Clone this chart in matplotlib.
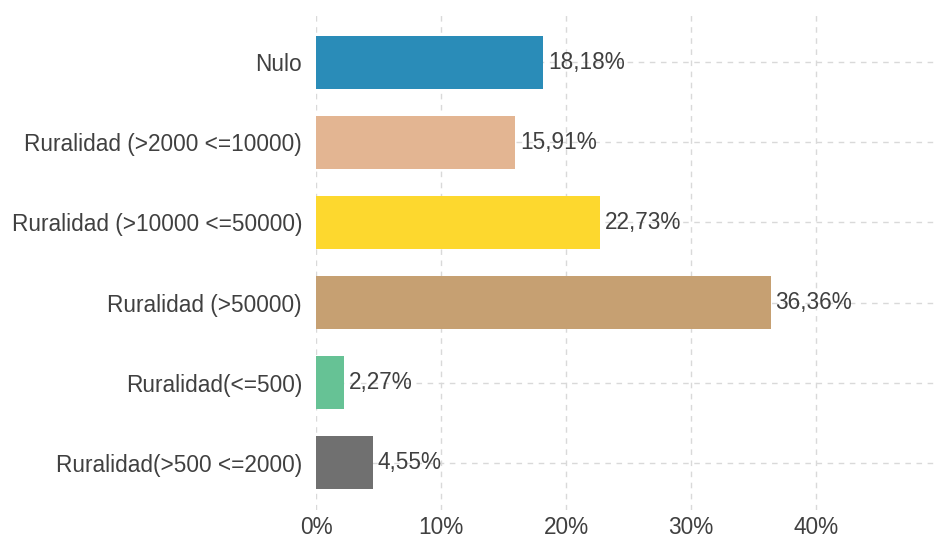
import matplotlib
matplotlib.use("Agg")
import matplotlib.pyplot as plt
from matplotlib.ticker import FuncFormatter

plt.rcParams['font.family'] = ['Liberation Sans', 'DejaVu Sans']

categories = ["Nulo", "Ruralidad (>2000 <=10000)", "Ruralidad (>10000 <=50000)",
              "Ruralidad (>50000)", "Ruralidad(<=500)", "Ruralidad(>500 <=2000)"]
values = [18.18, 15.91, 22.73, 36.36, 2.27, 4.55]
colors = ["#2a8cb8", "#e3b592", "#fdd82e", "#c6a072", "#66c295", "#707070"]
xticks = [0, 10, 20, 30, 40]

FS = 16.3

fig = plt.figure(figsize=(9.36, 5.43), dpi=100)
ax = fig.add_axes([316/936, 33/543, 620/936, 495/543])

y = list(range(len(categories)))
ax.set_axisbelow(True)
for yi in y:
    ax.axhline(yi, color="#d9d9d9", lw=1, ls=(0, (4, 4)), zorder=0)
for xv in xticks:
    ax.axvline(xv, color="#d9d9d9", lw=1, ls=(0, (4, 4)), zorder=0)

ax.barh(y, values, height=0.66, color=colors, zorder=2)
for yi, v in zip(y, values):
    ax.text(v + 0.4, yi, f"{v:.2f}%".replace(".", ","), va="center", ha="left",
            fontsize=FS, color="#404040", zorder=3)

ax.set_xlim(0, 49.6)
ax.set_ylim(5.59, -0.59)
ax.set_yticks(y)
ax.set_yticklabels(categories)
ax.set_xticks(xticks)
ax.xaxis.set_major_formatter(FuncFormatter(lambda v, p: f"{v:.0f}%"))
ax.tick_params(axis="both", length=0, labelsize=FS, labelcolor="#404040")
ax.tick_params(axis="y", pad=10)
ax.tick_params(axis="x", pad=4)
for s in ax.spines.values():
    s.set_visible(False)

fig.savefig("out.png", dpi=100)
